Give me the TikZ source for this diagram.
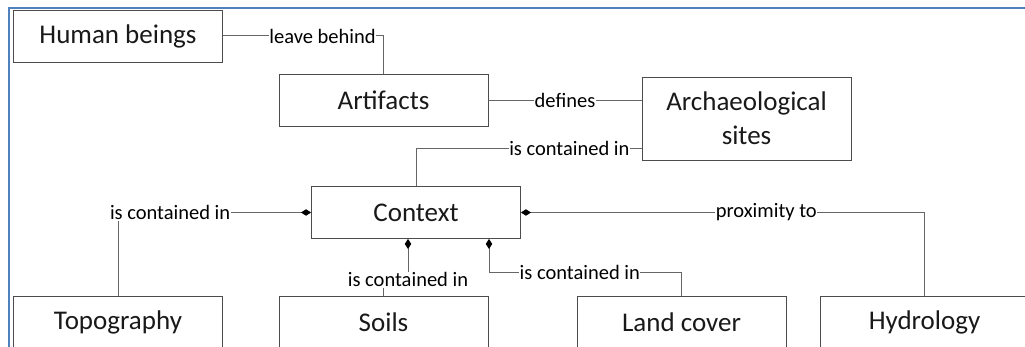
\documentclass[tikz,border=0pt]{standalone}
\usepackage{fontspec}
\setmainfont{Carlito}
\usetikzlibrary{arrows.meta}
\definecolor{frameblue}{RGB}{79,129,189}

\begin{document}
\begin{tikzpicture}[x=1pt,y=-1pt,
  box/.style={draw=black!70,line width=0.9pt,rectangle,minimum width=209pt,minimum height=52pt,inner sep=0pt,font=\fontsize{27}{34}\selectfont,text=black!90},
  lbl/.style={fill=white,inner xsep=0.5pt,inner ysep=1pt,font=\fontsize{20.5}{24}\selectfont,text=black},
  con/.style={draw=black!60,line width=1pt},
  has/.style={con,{Diamond[length=10pt,width=6.5pt,color=black]}-}]
\useasboundingbox (0,0) rectangle (1025,347);
\clip (0,0) rectangle (1025,347);
\draw[frameblue,line width=2pt] (1030,8) -- (9,8) -- (9,350);

\node[box] (human) at (118,36) {Human beings};
\node[box,below of=human,node distance=286pt] (topo) {Topography};
\node[box] (artifacts) at (383.5,100.5) {Artifacts};
\node[box,below of=artifacts,node distance=221.5pt] (soils) {Soils};
\node[box] (context) at (416,212.5) {Context};
\node[box,minimum height=83pt,align=center] (sites) at (746.5,118.5) {Archaeological\\sites};
\node[box] (land) at (681.5,322) {Land cover};
\node[box,right of=land,node distance=243pt] (hydro) {Hydrology};

\draw[con] (human.east) -| node[lbl,pos=0.31] {leave behind} (artifacts.north);
\draw[con] (artifacts.east) -- node[lbl] {defines} (sites.west |- artifacts.east);
\draw[con] ([yshift=12pt]sites.south west) -| node[lbl,pos=0.16] {is contained in} (context.north);
\draw[has] (context.west) -| node[lbl,pos=0.365] {is contained in} (topo.north);
\draw[has] (context.east) -| node[lbl,pos=0.304] {proximity to} (hydro.north);
\draw[has] ([xshift=-8pt]context.south) -- node[lbl,pos=0.91] {is contained in} ++(0,45) -| (soils.north);
\draw[has] ([xshift=73pt]context.south) -- ++(0,34) -| node[lbl,pos=0.236] {is contained in} (land.north);
\end{tikzpicture}
\end{document}
